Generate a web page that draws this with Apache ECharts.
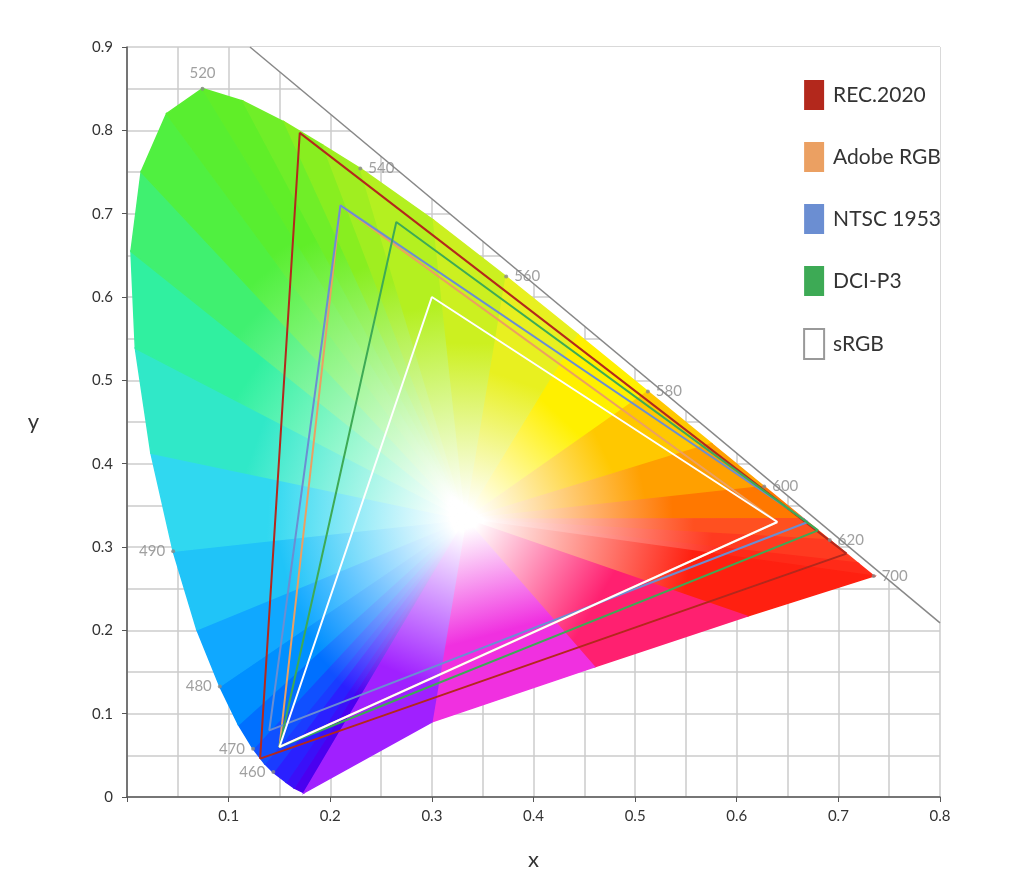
<!DOCTYPE html>
<html><head><meta charset="utf-8">
<script src="https://cdn.jsdelivr.net/npm/echarts@6/dist/echarts.min.js"></script>
<style>html,body{margin:0;background:#fff}#c{width:1024px;height:889px}</style>
</head><body><div id="c"></div>
<script>
// spectral locus (x, y) and display colour, closed by the line of purples
const locusX = [0.1741,0.1644,0.1566,0.1440,0.1355,0.1241,0.1096,0.0913,0.0687,0.0454,0.0235,0.0082,0.0039,0.0139,0.0389,0.0743,0.1142,0.1547,0.1929,0.2296,0.3016,0.3731,0.4441,0.5125,0.5752,0.6270,0.6658,0.6915,0.7190,0.7347,0.6100,0.4600,0.3000];
const locusY = [0.0050,0.0109,0.0177,0.0297,0.0399,0.0578,0.0868,0.1327,0.2007,0.2950,0.4127,0.5384,0.6548,0.7502,0.8200,0.8500,0.8350,0.8100,0.7820,0.7543,0.6923,0.6245,0.5547,0.4866,0.4242,0.3725,0.3340,0.3083,0.2809,0.2653,0.2170,0.1560,0.0900];
const locusColor = ['#4a00f0','#3a10f8','#2a20ff','#1a3cff','#1050ff','#0070ff','#0090ff','#10a8ff','#20c4f8','#30d8f0','#30e8c8','#30f0a0','#40f070','#50f040','#58ee30','#60ee28','#70ee28','#88ee20','#a0ee20','#b4f020','#ccf020','#e8f020','#fff000','#ffc800','#ffa000','#ff7800','#ff5020','#ff3a20','#ff2a18','#ff2010','#ff2070','#f030e0','#a020ff'];
const whitePoint = [0.3333,0.3333];
const gamutNames = ['REC.2020','Adobe RGB','NTSC 1953','DCI-P3','sRGB'];
const gamutColors = ['#b3281c','#eba062','#6b8ed2','#3daa55','#ffffff'];
const gamuts = [
  [[0.708,0.292],[0.170,0.797],[0.131,0.046]],
  [[0.640,0.330],[0.210,0.710],[0.150,0.060]],
  [[0.670,0.330],[0.210,0.710],[0.140,0.080]],
  [[0.680,0.320],[0.265,0.690],[0.150,0.060]],
  [[0.640,0.330],[0.300,0.600],[0.150,0.060]]
];
const tangentLine = [[0.121,0.9],[0.8,0.209]];
const maskCorner = [0.8,0.9];
const waveLabels = ['460','470','480','490','520','540','560','580','600','620','700'];
const wavePoints = [[0.144,0.030],[0.124,0.058],[0.0913,0.1327],[0.0454,0.295],[0.0743,0.85],[0.2296,0.7543],[0.3731,0.6245],[0.5125,0.4866],[0.627,0.3725],[0.6915,0.3083],[0.7347,0.2653]];
const wavePos = ['left','left','left','left','top','right','right','right','right','right','right'];

const chart = echarts.init(document.getElementById('c'));
const locus = locusX.map((x,i)=>[x,locusY[i]]);
const series = [];
series.push({type:'custom', z:1, silent:true, data:[0], renderItem:(p,api)=>{
  const pts=[...tangentLine, maskCorner].map(d=>api.coord(d));
  return {type:'polygon', shape:{points:pts}, style:{fill:'#fff'}};
}});
series.push({type:'custom', z:2, silent:true, data:locus, renderItem:(p,api)=>{
  const i=p.dataIndex, j=(i+1)%locus.length;
  const c=api.coord(whitePoint), a=api.coord(locus[i]), b=api.coord(locus[j]);
  const mx=(a[0]+b[0])/2, my=(a[1]+b[1])/2;
  const grad={type:'linear',global:true,x:c[0],y:c[1],x2:mx,y2:my,colorStops:[{offset:0,color:'#ffffff'},{offset:0.05,color:'#ffffff'},{offset:0.65,color:locusColor[i]},{offset:1,color:locusColor[i]}]};
  return {type:'polygon', shape:{points:[c,a,b]}, style:{fill:grad,stroke:grad,lineWidth:1.5}};
}});
gamuts.forEach((g,k)=>{
  series.push({name:gamutNames[k], type:'line', z:3+k, data:[...g,g[0]], symbol:'none', silent:true,
    lineStyle:{color:gamutColors[k], width:2}, itemStyle:{color:gamutColors[k], borderColor: k===4?'#999':gamutColors[k], borderWidth: k===4?1:0}});
});
series.push({type:'line', z:10, data:tangentLine, symbol:'none', silent:true, lineStyle:{color:'#888',width:1.5}});
series.push({type:'scatter', z:11, data:wavePoints.map((p,i)=>({value:p,label:{position:wavePos[i],formatter:waveLabels[i]}})),
  symbolSize:4, itemStyle:{color:'#888'}, silent:true,
  label:{show:true, color:'#888', fontSize:15, fontFamily:'Lato', distance:6}});

chart.setOption({
  animation:false,
  grid:{left:127,right:84,top:47,bottom:92},
  legend:{orient:'vertical', right:78, top:75, itemWidth:20, itemHeight:30, itemGap:32, icon:'rect',
    data:gamutNames, textStyle:{fontSize:21, fontFamily:'Lato', color:'#333', padding:[0,0,0,4]}, selectedMode:false},
  xAxis:{type:'value', min:0, max:0.8, interval:0.1, name:'x', nameLocation:'middle', nameGap:52,
    nameTextStyle:{fontSize:22,fontFamily:'Lato',color:'#333'},
    axisLine:{lineStyle:{color:'#555',width:1.5}}, axisTick:{show:true,length:5,lineStyle:{color:'#555'}},
    axisLabel:{fontSize:15,fontFamily:'Lato',color:'#333',margin:12,formatter:v=>v===0?'':v.toFixed(1)},
    splitLine:{show:true,lineStyle:{color:'#ccc',width:1.5}}, minorTick:{show:false,splitNumber:2},
    minorSplitLine:{show:true,lineStyle:{color:'#ccc',width:1.5}}},
  yAxis:{type:'value', min:0, max:0.9, interval:0.1, name:'y', nameLocation:'middle', nameGap:88, nameRotate:0,
    nameTextStyle:{fontSize:22,fontFamily:'Lato',color:'#333'},
    axisLine:{show:true,lineStyle:{color:'#555',width:1.5}}, axisTick:{show:true,length:5,lineStyle:{color:'#555'}},
    axisLabel:{fontSize:15,fontFamily:'Lato',color:'#333',margin:14,formatter:v=>v===0?'0':v.toFixed(1)},
    splitLine:{show:true,lineStyle:{color:'#ccc',width:1.5}}, minorTick:{show:false,splitNumber:2},
    minorSplitLine:{show:true,lineStyle:{color:'#ccc',width:1.5}}},
  series
});
</script></body></html>
